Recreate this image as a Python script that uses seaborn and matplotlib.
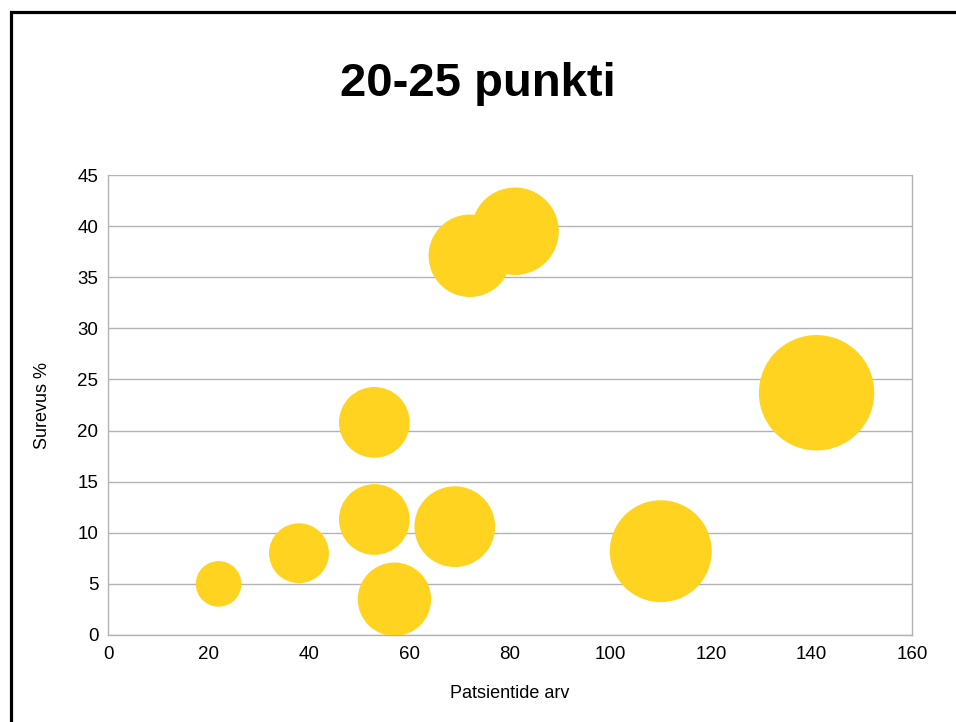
import matplotlib
matplotlib.use("Agg")
import matplotlib.pyplot as plt
from matplotlib.patches import Rectangle
import seaborn as sns
import pandas as pd

# Patient count per centre (also the bubble size) and mortality %
patients = [22, 38, 57, 53, 53, 69, 72, 81, 110, 141]
mortality = [5.0, 8.0, 3.5, 11.3, 20.8, 10.6, 37.1, 39.5, 8.2, 23.7]

x_ticks = [0, 20, 40, 60, 80, 100, 120, 140, 160]
y_ticks = [0, 5, 10, 15, 20, 25, 30, 35, 40, 45]

title = "20-25 punkti"
x_label = "Patsientide arv"
y_label = "Surevus %"

df = pd.DataFrame({"patients": patients, "mortality": mortality})

sns.set_style("white")
plt.rcParams["font.family"] = ["Liberation Sans", "DejaVu Sans"]
plt.rcParams["text.color"] = "black"
plt.rcParams["axes.labelcolor"] = "black"

DPI = 100
fig = plt.figure(figsize=(9.56, 7.22), dpi=DPI)
ax = fig.add_axes([0.113, 0.1205, 0.841, 0.6371])

# bubble area proportional to patient count (marker s = diameter^2 in pt^2)
k = 4 * 23.6 * (72.0 / DPI) ** 2
sns.scatterplot(
    data=df, x="patients", y="mortality", size="patients",
    sizes=(k * min(patients), k * max(patients)),
    color="#FFD320", edgecolor="none", linewidth=0, alpha=1.0,
    legend=False, ax=ax, zorder=3,
)

grid_c = "#b3b3b3"
ax.set_xlim(0, 160)
ax.set_ylim(0, 45)
ax.set_xticks(x_ticks)
ax.set_yticks(y_ticks)
ax.yaxis.grid(True, color=grid_c, linewidth=1.0)
ax.xaxis.grid(False)
ax.set_axisbelow(True)
for side in ["left", "bottom", "right"]:
    ax.spines[side].set_visible(True)
    ax.spines[side].set_color(grid_c)
    ax.spines[side].set_linewidth(1.0)
ax.spines["top"].set_visible(False)
ax.tick_params(axis="both", which="major", direction="out", length=4,
               width=1.0, color=grid_c, labelsize=13.5, labelcolor="black", pad=3)
ax.tick_params(axis="x", pad=4)

ax.set_xlabel(x_label, fontsize=13, labelpad=16)
ax.set_ylabel(y_label, fontsize=13, labelpad=19)

fig.text(0.5, 0.884, title, ha="center", va="center",
         fontsize=34, fontweight="bold", color="black")

# frame around the slide
fig.patches.append(Rectangle((0.011, -0.05), 1.1, 1.0334, transform=fig.transFigure,
                             fill=False, edgecolor="black", linewidth=2.3))

fig.savefig("out.png", dpi=DPI, facecolor="white")
